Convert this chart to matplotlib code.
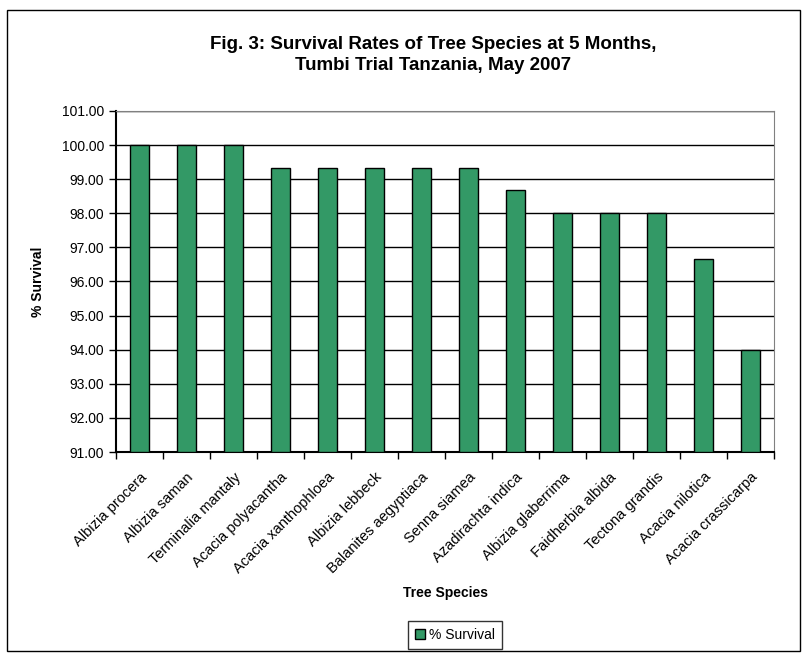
import numpy as np
import matplotlib.pyplot as plt
from matplotlib.patches import Rectangle

plt.rcParams['font.family'] = ['Liberation Sans', 'DejaVu Sans']

species = ['Albizia procera', 'Albizia saman', 'Terminalia mantaly', 'Acacia polyacantha',
           'Acacia xanthophloea', 'Albizia lebbeck', 'Balanites aegyptiaca', 'Senna siamea',
           'Azadirachta indica', 'Albizia glaberrima', 'Faidherbia albida', 'Tectona grandis',
           'Acacia nilotica', 'Acacia crassicarpa']
survival = [100.00, 100.00, 100.00, 99.33, 99.33, 99.33, 99.33, 99.33,
            98.67, 98.00, 98.00, 98.00, 96.67, 94.00]
yticks = np.arange(91, 102, 1)

fig = plt.figure(figsize=(8.05, 6.53), dpi=100)
ax = fig.add_axes([116 / 805, 1 - 452 / 653, (774 - 116) / 805, (452 - 111) / 653])

# outer chart border
fig.patches.append(Rectangle((7 / 805, 1 - 651 / 653), 793 / 805, 641 / 653,
                             transform=fig.transFigure, fill=False, edgecolor='black', lw=1))

x = np.arange(len(species))
ax.bar(x, np.array(survival) - 91, bottom=91, width=0.4, color='#339966',
       edgecolor='black', linewidth=1, zorder=3, label='% Survival')

ax.set_xlim(-0.5, len(species) - 0.5)
ax.set_ylim(91, 101)
ax.set_yticks(yticks)
ax.set_yticklabels(['%.2f' % v for v in yticks], fontsize=10)
ax.yaxis.grid(True, color='black', linewidth=1, zorder=0)

ax.set_xticks(np.arange(len(species) + 1) - 0.5)
ax.set_xticklabels([])
ax.set_xticks(x, minor=True)
ax.set_xticklabels(species, minor=True, rotation=45, ha='right', rotation_mode='anchor', fontsize=10.5)
ax.tick_params(axis='x', which='minor', length=0, pad=13)
ax.tick_params(axis='x', which='major', length=5, width=1, direction='out')
ax.tick_params(axis='y', length=5, width=1, direction='out')

for side in ['top', 'right']:
    ax.spines[side].set_color('#808080')
for side in ['left', 'bottom']:
    ax.spines[side].set_linewidth(1.5)

ax.set_ylabel('% Survival', fontsize=10, fontweight='bold', labelpad=12)
ax.set_xlabel('Tree Species', fontsize=10, fontweight='bold', labelpad=7)

fig.text(433 / 805, 1 - 55 / 653, 'Fig. 3: Survival Rates of Tree Species at 5 Months,\nTumbi Trial Tanzania, May 2007',
         ha='center', va='center', fontsize=13.5, fontweight='bold', linespacing=1.3)

leg = ax.legend(loc='center', bbox_to_anchor=(455 / 805, 1 - 635 / 653), bbox_transform=fig.transFigure,
                fontsize=10, frameon=True, fancybox=False, edgecolor='black',
                handlelength=0.7, handleheight=0.7, handletextpad=0.3, borderpad=0.5)
leg.get_frame().set_linewidth(1)

fig.savefig('out.png', dpi=100)
